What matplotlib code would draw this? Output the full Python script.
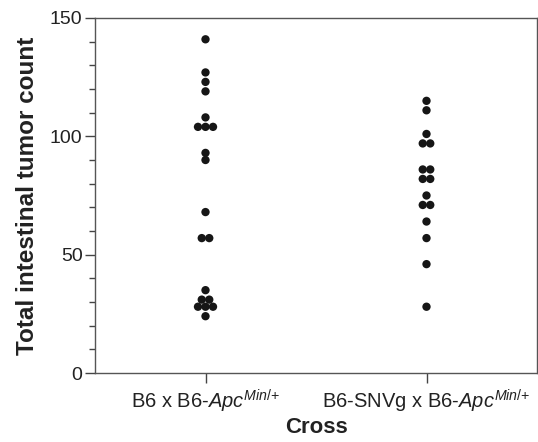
import matplotlib
matplotlib.use('Agg')
import matplotlib.pyplot as plt
import numpy as np
from matplotlib.ticker import MultipleLocator

plt.rcParams['font.family'] = ['Liberation Sans', 'DejaVu Sans']
plt.rcParams['mathtext.fontset'] = 'custom'
plt.rcParams['mathtext.rm'] = 'Liberation Sans'
plt.rcParams['mathtext.it'] = 'Liberation Sans:italic'

crosses = [r'B6 x B6-$\mathit{Apc}^{\mathit{Min{/}{+}}}$',
           r'B6-SNVg x B6-$\mathit{Apc}^{\mathit{Min{/}{+}}}$']

b6_counts = [141, 127, 123, 119, 108, 104, 104, 104, 93, 90,
             68, 57, 57, 35, 31, 31, 28, 28, 28, 24]
snvg_counts = [115, 111, 101, 97, 97, 86, 86, 82, 82, 75,
               71, 71, 64, 57, 46, 28]

ylabel = 'Total intestinal tumor count'
xlabel = 'Cross'


def dot_offsets(vals, step=0.034):
    # spread tied values sideways like a scatter dot plot
    vals = np.asarray(vals)
    offs = np.zeros(len(vals))
    for v in np.unique(vals):
        idx = np.where(vals == v)[0]
        n = len(idx)
        offs[idx] = (np.arange(n) - (n - 1) / 2.0) * step
    return offs


fig = plt.figure(figsize=(5.38, 4.42), dpi=100)
ax = fig.add_axes([95 / 538., 1 - 373 / 442., 442 / 538., 355 / 442.])

for i, counts in enumerate([b6_counts, snvg_counts]):
    xs = i + dot_offsets(counts)
    ax.scatter(xs, counts, s=36, c='#161616', edgecolors='none', zorder=3)

ax.set_xlim(-0.5, 1.5)
ax.set_ylim(0, 150)
ax.set_xticks([0, 1])
ax.set_xticklabels(crosses, fontsize=14.5, color='#222222')
ax.yaxis.set_major_locator(MultipleLocator(50))
ax.yaxis.set_minor_locator(MultipleLocator(10))
ax.tick_params(axis='y', which='major', length=7, width=1, labelsize=14,
               colors='#444444', labelcolor='#222222', pad=2)
ax.tick_params(axis='y', which='minor', length=4, width=1, colors='#444444')
ax.tick_params(axis='x', which='major', length=7, width=1, colors='#444444',
               labelcolor='#222222', pad=4)

for sp in ax.spines.values():
    sp.set_color('#555555')
    sp.set_linewidth(1)

ax.set_ylabel(ylabel, fontsize=17.5, fontweight='bold', color='#222222', labelpad=8)
ax.set_xlabel(xlabel, fontsize=16, fontweight='bold', color='#222222', labelpad=1)

fig.savefig('out.png', dpi=100)
